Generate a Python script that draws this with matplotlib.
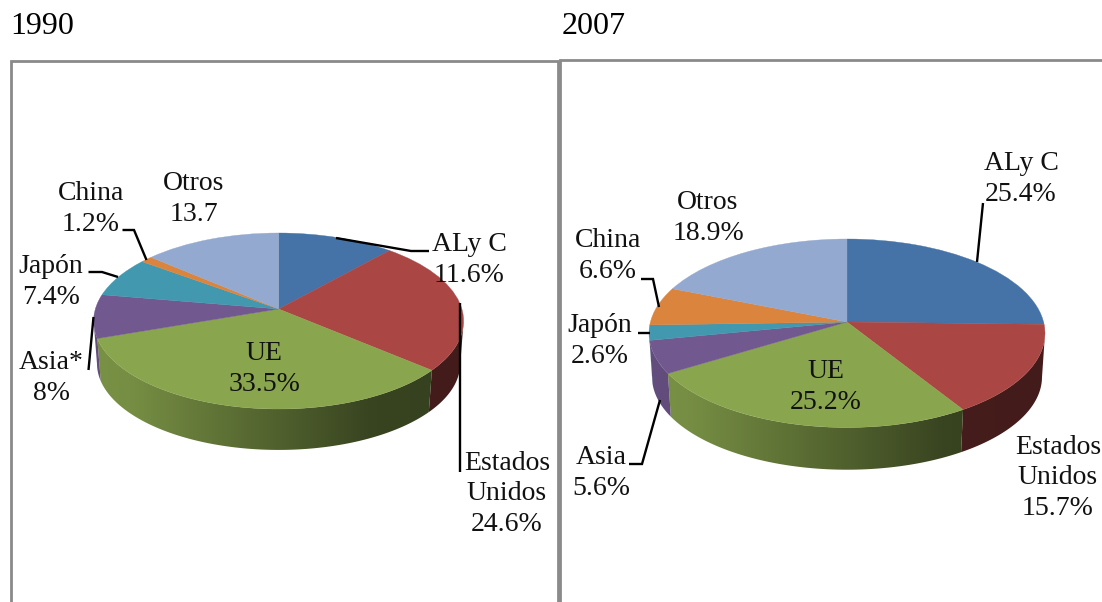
import numpy as np
import matplotlib
matplotlib.use("Agg")
import matplotlib.pyplot as plt
from matplotlib.patches import Polygon
from matplotlib.transforms import Transform

plt.rcParams['font.family'] = ['Liberation Serif', 'DejaVu Serif']

# ---- data ----
regions = ["ALy C", "Estados Unidos", "UE", "Asia", "Japón", "China", "Otros"]
values_1990 = [11.6, 24.6, 33.5, 8.0, 7.4, 1.2, 13.7]
values_2007 = [25.4, 15.7, 25.2, 5.6, 2.6, 6.6, 18.9]
colors = ["#4572A7", "#AA4643", "#89A54E", "#71588F", "#4198AF", "#DB843D", "#93A9CF"]
labels_1990 = ["ALy C\n11.6%", "Estados\nUnidos\n24.6%", "UE\n33.5%", "Asia*\n8%",
               "Japón\n7.4%", "China\n1.2%", "Otros\n13.7"]
labels_2007 = ["ALy C\n25.4%", "Estados\nUnidos\n15.7%", "UE\n25.2%", "Asia\n5.6%",
               "Japón\n2.6%", "China\n6.6%", "Otros\n18.9%"]
titles = ["1990", "2007"]

# ---- layout in pixels ----
W, H = 1102, 602
label_pos_1990 = [(469, 260), (507, 494), (264, 369), (51, 378), (51, 282), (91, 209), (194, 199)]
label_pos_2007 = [(1021, 179), (1058, 478), (826, 387), (601, 473), (600, 341), (608, 256), (708, 218)]
leaders_1990 = [[(336, 238), (411, 251), (429, 251)],
                [(460, 303), (460, 472)],
                [(93.5, 317), (88.5, 370)],
                [(88.5, 272), (102, 272), (118, 277)],
                [(122.5, 230), (134, 230), (146.5, 260)]]
leaders_2007 = [[(983, 203), (977, 262)],
                [(641, 279), (653, 279), (659, 307)],
                [(638, 333), (650, 333)],
                [(629, 464), (642, 464), (660, 400)]]


class DiscProjection(Transform):
    """Perspective view of the unit disc, into pixel coordinates."""
    input_dims = output_dims = 2

    def __init__(self, ax_px, ay_px, rx, up, down, scale=1.0, drop=0.0):
        super().__init__()
        self.ax_px, self.ay_px = ax_px, ay_px
        self.k = (down - up) / (down + up)
        self.A = up * (1 + self.k)
        self.B = rx * np.sqrt(1 - self.k ** 2)
        self.scale, self.drop = scale, drop

    def transform_non_affine(self, values):
        values = np.asarray(values, float)
        u, v = values[:, 0] * self.scale, values[:, 1] * self.scale
        w = 1 + self.k * v
        return np.column_stack([self.ax_px + self.B * u / w,
                                self.ay_px - self.A * v / w + self.drop])

    def inverted(self):
        raise NotImplementedError


def draw_pie(ax, values, apex, rx, up, down, depth, inset):
    top = DiscProjection(apex[0], apex[1], rx, up, down)
    low = DiscProjection(apex[0], apex[1], rx, up, down, scale=inset, drop=depth)
    wedges, _ = ax.pie(values, colors=colors, startangle=90, counterclock=False,
                       radius=1, center=(0, 0),
                       wedgeprops=dict(linewidth=0.25, zorder=3))
    left, right = apex[0] - rx, apex[0] + rx
    xs = np.linspace(0, 1, 256)
    shade = np.interp(xs, [0.0, 0.1, 0.75, 1.0], [0.88, 0.86, 0.41, 0.39])
    for w, c in zip(wedges, colors):
        w.set_transform(top + ax.transData)
        w.set_edgecolor(c)
        th = np.radians(np.linspace(w.theta1, w.theta2, 200))
        unit = np.column_stack([np.cos(th), np.sin(th)])
        unit = unit[unit[:, 1] <= -top.k]
        if len(unit) < 2:
            continue
        outline = np.vstack([top.transform(unit), low.transform(unit)[::-1]])
        clip = Polygon(outline, closed=True, transform=ax.transData, facecolor="none", edgecolor="none")
        ax.add_patch(clip)
        base = np.array(matplotlib.colors.to_rgb(c))
        grad = (shade[:, None] * base)[None, :, :]
        im = ax.imshow(grad, extent=(left, right, apex[1] + down + depth + 5, apex[1] - up),
                       aspect="auto", interpolation="bilinear", zorder=2)
        im.set_clip_path(clip)


fig = plt.figure(figsize=(W / 100, H / 100), dpi=100, facecolor="white")
ax = fig.add_axes([0, 0, 1, 1])

draw_pie(ax, values_1990, (278.6, 309), 185, 76, 100, 43, 0.982)
draw_pie(ax, values_2007, (847, 322), 198, 83, 105.5, 44, 0.985)

ax.set_aspect("auto")
ax.set_xlim(0, W)
ax.set_ylim(H, 0)
ax.axis("off")

# frames (open at the bottom and, for the second one, at the right)
frame_kw = dict(color="#8a8a8a", lw=2.0, zorder=1, solid_joinstyle="miter", solid_capstyle="butt")
ax.plot([11, 11, 557.5, 557.5], [H + 5, 61, 61, H + 5], **frame_kw)
ax.plot([560, 560, W + 5], [H + 5, 59.5, 59.5], **frame_kw)

# leader lines
for line in leaders_1990 + leaders_2007:
    xs_, ys_ = zip(*line)
    ax.plot(xs_, ys_, color="black", lw=1.7, zorder=5, solid_joinstyle="miter", solid_capstyle="butt")

# data labels
for labs, poss in ((labels_1990, label_pos_1990), (labels_2007, label_pos_2007)):
    for s, (x, y) in zip(labs, poss):
        ax.text(x, y, s, ha="center", va="center", ma="center", fontsize=20,
                linespacing=1.3, color="#111111", zorder=6)

# year titles
ax.text(10, 26, titles[0], ha="left", va="center", fontsize=23, color="black")
ax.text(562, 26, titles[1], ha="left", va="center", fontsize=23, color="black")

fig.savefig("out.png", dpi=100, facecolor="white")
